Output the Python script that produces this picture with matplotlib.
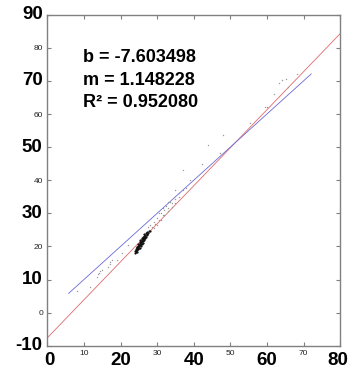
import matplotlib
matplotlib.use('Agg')
import matplotlib.pyplot as plt
import matplotlib.transforms as mtransforms

plt.rcParams['font.family'] = ['Liberation Sans', 'DejaVu Sans']

# fit results printed on the chart
fit_b = -7.603498
fit_m = 1.148228
fit_r2 = 0.952080

# dense cluster of observations (dark)
cluster_x = [23.9, 24.1, 24.2, 24.3, 24.4, 24.5, 24.6, 24.7, 24.8, 24.9, 25.0, 25.1,
             25.2, 25.3, 25.4, 25.5, 25.6, 25.7, 25.8, 25.9, 26.0, 26.1, 26.2, 26.3,
             26.4, 26.5, 26.6, 26.8, 26.9, 27.1, 27.3, 27.5, 27.7, 28.0, 24.4, 24.9,
             25.4, 25.9, 26.4, 25.0, 25.5, 26.0, 24.6, 25.2, 25.8, 26.5, 27.0, 24.3,
             24.8, 25.3, 25.7, 26.2, 26.7, 27.2, 24.0, 24.5, 25.1, 25.6, 26.1, 26.6]
cluster_y = [17.9, 18.4, 19.0, 18.6, 19.4, 19.0, 19.8, 19.3, 20.2, 19.6, 20.5, 20.0,
             21.0, 20.3, 21.3, 20.8, 21.6, 21.1, 22.1, 21.5, 22.4, 21.9, 22.8, 22.2,
             23.1, 22.6, 23.5, 23.0, 23.9, 23.4, 24.3, 23.9, 24.8, 24.6, 19.9, 20.8,
             21.8, 22.6, 23.6, 19.4, 20.2, 21.1, 18.4, 19.6, 20.7, 21.9, 22.8, 19.2,
             19.9, 20.7, 21.4, 22.0, 22.9, 23.8, 18.5, 19.6, 20.4, 21.2, 21.7, 22.4]

# lighter scattered observations
spread_x = [28.5, 29.0, 29.5, 30.0, 30.5, 31.0, 31.5, 32.0, 32.5, 33.0, 33.5, 34.0,
            34.5, 35.0, 36.0, 29.0, 30.0, 31.0, 32.0, 33.0, 34.0, 35.0, 28.0, 27.5,
            30.5, 31.5, 33.0, 36.0, 37.0, 38.0, 39.0, 34.9, 37.1, 42.2, 44.0, 47.2,
            48.1, 55.4, 59.6, 59.9, 61.9, 63.3, 64.2, 65.2, 65.7, 68.1, 13.6, 13.9,
            14.2, 14.5, 15.0, 16.7, 17.0, 17.2, 17.6, 11.6, 20.5, 22.0, 8.0, 19.0]
spread_y = [26.0, 27.5, 26.8, 28.5, 28.0, 30.0, 29.5, 31.0, 32.2, 31.5, 33.5, 33.0,
            35.0, 34.2, 36.0, 25.5, 26.5, 28.0, 29.5, 30.8, 32.0, 33.0, 26.5, 26.0,
            30.0, 31.5, 33.5, 35.0, 37.0, 37.5, 40.0, 37.0, 43.0, 45.0, 50.6, 48.2,
            53.6, 57.3, 62.2, 62.2, 66.1, 69.3, 70.3, 70.6, 68.3, 72.1, 10.8, 11.7,
            12.1, 12.6, 12.8, 13.9, 14.8, 15.3, 15.9, 7.7, 18.0, 20.5, 6.5, 16.0]

# fitted line range and 1:1 line range
fit_line_x = [0, 80]
one_to_one_x = [5.8, 72.1]

fig = plt.figure(figsize=(3.51, 3.77), dpi=100)
ax = fig.add_axes([0.135, 0.083, 0.834, 0.878])

ax.scatter(spread_x, spread_y, s=1.0, color='#999999', linewidths=0, zorder=3)
ax.scatter(cluster_x, cluster_y, s=2.5, color='#111111', linewidths=0, zorder=4)

fit_line_y = [fit_m * x + fit_b for x in fit_line_x]
ax.plot(fit_line_x, fit_line_y, color='#e06a6a', lw=0.6, zorder=2)
ax.plot(one_to_one_x, one_to_one_x, color='#6a6ad8', lw=0.6, zorder=2)

ax.set_xlim(0, 80)
ax.set_ylim(-10, 90)

# small tick labels (odd x, even y), big overlay labels for the rest
ax.set_xticks(range(0, 81, 10))
ax.set_xticklabels(['' if v % 20 == 0 else str(v) for v in range(0, 81, 10)])
ax.set_yticks(range(-10, 91, 10))
ax.set_yticklabels(['' if v % 20 != 0 else str(v) for v in range(-10, 91, 10)])
ax.tick_params(direction='in', top=True, right=True, length=3, width=0.8,
               color='#808080', labelsize=6, labelcolor='#222222', pad=3)
for side in ax.spines.values():
    side.set_color('#808080')
    side.set_linewidth(1.0)

xtrans = mtransforms.blended_transform_factory(ax.transData, ax.transAxes)
for v in range(0, 81, 20):
    shift = 0.6 if v == 0 else (-0.6 if v == 80 else 0)
    ax.text(v + shift, -0.045, str(v), transform=xtrans, ha='center', va='center',
            fontsize=13.5, fontweight='bold', clip_on=False)
ytrans = mtransforms.blended_transform_factory(ax.transAxes, ax.transData)
for v in range(-10, 91, 20):
    ax.text(-0.016, v, str(v), transform=ytrans, ha='right', va='center',
            fontsize=13.5, fontweight='bold', clip_on=False)

# fit summary
ax.text(9.8, 77, 'b = %.6f' % fit_b, fontsize=13, fontweight='bold', va='center')
ax.text(9.8, 70, 'm = %.6f' % fit_m, fontsize=13, fontweight='bold', va='center')
ax.text(9.8, 63.5, 'R² = %.6f' % fit_r2, fontsize=13, fontweight='bold', va='center')

plt.savefig('out.png', dpi=100)
plt.close()
